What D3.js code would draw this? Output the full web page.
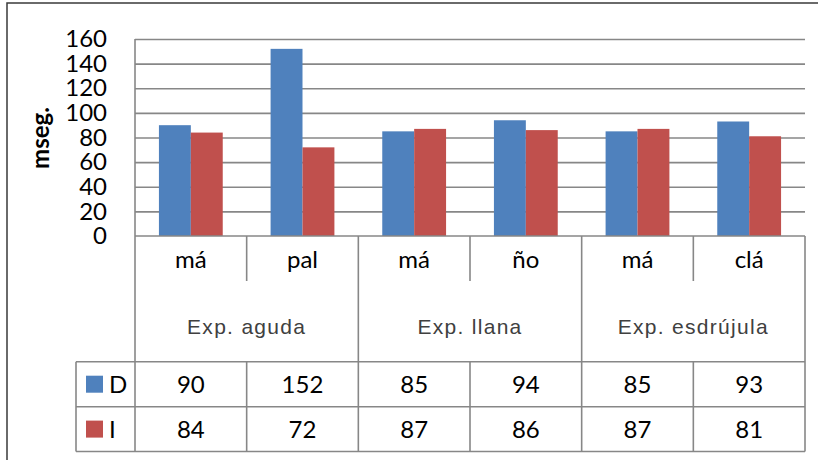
<!DOCTYPE html>
<html><head><meta charset="utf-8">
<script src="https://cdn.jsdelivr.net/npm/d3@7"></script>
<style>body{margin:0;background:#fff}svg{display:block}</style>
</head><body>
<svg id="chart" width="818" height="460"></svg>
<script>
const syllables = ["má","pal","má","ño","má","clá"];
const groups = ["Exp. aguda","Exp. llana","Exp. esdrújula"];
const groupSize = [2,2,2];
const seriesNames = ["D","I"];
const valuesD = [90,152,85,94,85,93];
const valuesI = [84,72,87,86,87,81];
const yTicks = [0,20,40,60,80,100,120,140,160];
const colors = ["#4F81BD","#C0504D"];
const yTitle = "mseg.";

const svg = d3.select("#chart");
const L = 135, R = 805, T = 39, B = 236;
const gridColor = "#878787";
const numFont = "Lato, 'Open Sans', sans-serif";

// outer border
svg.append("rect").attr("x",7).attr("y",3).attr("width",830).attr("height",480)
  .attr("fill","none").attr("stroke","#3a3a3a").attr("stroke-width",1.5);

const idx = d3.range(syllables.length);
const x0 = d3.scaleBand().domain(idx).range([L,R]).paddingInner(0).paddingOuter(0);
const x1 = d3.scaleBand().domain(seriesNames).range([0,x0.bandwidth()]).paddingInner(0).paddingOuter(0.75);
const y = d3.scaleLinear().domain([0,160]).range([B,T]);

// gridlines + y labels
const yAxis = d3.axisLeft(y).tickValues(yTicks).tickSize(-(R-L)).tickPadding(28);
const gy = svg.append("g").attr("transform",`translate(${L},0)`).call(yAxis);
gy.select(".domain").remove();
gy.selectAll(".tick line").attr("stroke",gridColor).attr("stroke-width",1.6);
gy.selectAll(".tick text").attr("font-family",numFont).attr("font-size",24).attr("fill","#000");
gy.selectAll(".tick").filter(d=>d===0).select("line").remove();

// y title
svg.append("text").attr("transform",`translate(49,138) rotate(-90)`)
  .attr("text-anchor","middle").attr("font-family",numFont).attr("font-weight","bold")
  .attr("font-size",24).attr("fill","#000").text(yTitle);

// bars
const series = [valuesD, valuesI];
const gb = svg.append("g");
series.forEach((vals,si)=>{
  gb.selectAll(null).data(idx).join("rect")
    .attr("x",i=>x0(i)+x1(seriesNames[si]))
    .attr("width",x1.bandwidth())
    .attr("y",i=>y(vals[i]))
    .attr("height",i=>y(0)-y(vals[i]))
    .attr("fill",colors[si]);
});

// table lines
const lines = svg.append("g").attr("stroke",gridColor).attr("stroke-width",1.6).attr("fill","none");
const rowTop = 361.7, rowMid = 406.7, rowBot = 451.5, legL = 76;
function ln(x1_,y1_,x2_,y2_){lines.append("line").attr("x1",x1_).attr("y1",y1_).attr("x2",x2_).attr("y2",y2_);}
ln(L,T,L,rowBot); // y axis line
ln(L,B,R,B);
ln(R,B,R,rowBot);
// group boundaries & inner ticks
let start = 0;
groupSize.forEach((n,gi)=>{
  for(let k=1;k<n;k++){ const xi = x0(start+k); ln(xi,B,xi,281); }
  start += n;
  if(gi<groupSize.length-1){ const xb = x0(start); ln(xb,B,xb,rowTop); }
});
// data table
ln(legL,rowTop,R,rowTop); ln(legL,rowMid,R,rowMid); ln(legL,rowBot,R,rowBot);
ln(legL,rowTop,legL,rowBot);
idx.forEach(i=>{ if(i>0) ln(x0(i),rowTop,x0(i),rowBot); });

// syllable labels
svg.append("g").selectAll("text").data(idx).join("text")
  .attr("x",i=>x0(i)+x0.bandwidth()/2).attr("y",260).attr("dy","0.35em")
  .attr("text-anchor","middle").attr("font-family",numFont).attr("font-size",24)
  .attr("fill","#000").text(i=>syllables[i]);

// group labels
start = 0;
const gl = svg.append("g");
groupSize.forEach((n,gi)=>{
  const cx = (x0(start) + x0(start+n-1) + x0.bandwidth())/2;
  gl.append("text").attr("x",cx).attr("y",327).attr("dy","0.35em")
    .attr("text-anchor","middle").attr("font-family","'Liberation Sans', Arial, sans-serif")
    .attr("font-size",21).attr("letter-spacing",1.3).attr("fill","#404040").text(groups[gi]);
  start += n;
});

// data table values + legend
const rowsY = [(rowTop+rowMid)/2, (rowMid+rowBot)/2];
series.forEach((vals,si)=>{
  svg.append("g").selectAll("text").data(idx).join("text")
    .attr("x",i=>x0(i)+x0.bandwidth()/2).attr("y",rowsY[si]).attr("dy","0.35em")
    .attr("text-anchor","middle").attr("font-family",numFont).attr("font-size",24)
    .attr("fill","#000").text(i=>vals[i]);
  svg.append("rect").attr("x",86).attr("y",rowsY[si]-8.5).attr("width",17).attr("height",17).attr("fill",colors[si]);
  svg.append("text").attr("x",109).attr("y",rowsY[si]).attr("dy","0.35em")
    .attr("font-family",numFont).attr("font-size",24).attr("fill","#000").text(seriesNames[si]);
});
</script>
</body></html>
